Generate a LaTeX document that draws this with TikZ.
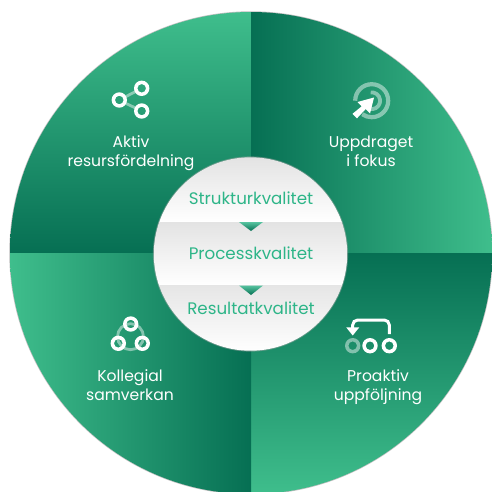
\documentclass[tikz,border=0pt]{standalone}
\usepackage{fontspec}
\setmainfont{Poppins}
\definecolor{bright}{HTML}{3FBE8C}
\definecolor{dark}{HTML}{066F53}
\definecolor{txtgreen}{HTML}{2DB588}
\tikzset{
  lbl/.style={text=white,anchor=base,font=\fontsize{15.6}{20}\selectfont,inner sep=0pt},
  inlbl/.style={text=txtgreen,anchor=base,font=\fontsize{16.7}{18}\selectfont,inner sep=0pt},
  pale/.style={draw=white,draw opacity=.45,line cap=butt},
  tri/.style={top color=txtgreen!80!white,bottom color=dark,draw=none},
}
\newcommand{\ringat}[3][1]{\fill[white,opacity=#1,even odd rule] (#2,#3) circle[radius=7.7pt] (#2,#3) circle[radius=4.3pt];}
\begin{document}
\begin{tikzpicture}[x=1pt,y=-1pt]
\useasboundingbox (0,0) rectangle (492,491);
\fill[white] (0,0) rectangle (492,491);
% quadrants
\fill[black!25] (251,253) circle[radius=241.7pt];
\begin{scope}
\clip (0,0) rectangle (492,491);
\clip (251,253) circle[radius=241pt];
\shade[top color=bright,bottom color=dark] (10,12) rectangle (251,253);
\shade[left color=dark,right color=bright] (251,12) rectangle (492,253);
\shade[top color=dark,bottom color=bright] (251,253) rectangle (492,494);
\shade[left color=bright,right color=dark] (10,253) rectangle (251,494);
\end{scope}
% inner circle
\fill[black!35,opacity=.5] (250.5,254) circle[radius=97.6pt];
\begin{scope}
\clip (250.5,254) circle[radius=96.7pt];
\shade[top color=black!11,bottom color=white] (150,157) rectangle (350,222);
\shade[top color=black!11,bottom color=white] (150,222) rectangle (350,285);
\shade[top color=black!10,bottom color=white] (150,285) rectangle (350,352);
\end{scope}
\shade[tri] (239,222) -- (263,222) -- (251,231) -- cycle;
\shade[tri] (239,285.5) -- (263,285.5) -- (251,295) -- cycle;
\node[inlbl] (q1) at (251,204) {Strukturkvalitet};
\node[inlbl] (q2) at (251,259) {Processkvalitet};
\node[inlbl] (q3) at (251,314) {Resultatkvalitet};
% labels
\node[lbl] (a1) at (131,147.3) {Aktiv};
\node[lbl] (a2) at (131,166.9) {resursfördelning};
\node[lbl] (b1) at (371,147.3) {Uppdraget};
\node[lbl] (b2) at (371,166.9) {i fokus};
\node[lbl] (c1) at (130,381) {Kollegial};
\node[lbl] (c2) at (130,400.7) {samverkan};
\node[lbl] (d1) at (378,381) {Proaktiv};
\node[lbl] (d2) at (378,400.7) {uppföljning};
% share icon
\draw[pale,line width=2.8pt] (125,97) -- (136,91.3) (125,103) -- (136,108.2);
\ringat{141.7}{88.3}
\ringat{119.3}{100}
\ringat{141.7}{111}
% target icon
\draw[pale,line width=4.2pt] (355.2,100.7) arc[start angle=180,end angle=-125,radius=16.5pt];
\draw[pale,line width=3.8pt] (370.7,92.4) arc[start angle=97,end angle=-120,radius=8.4pt];
\fill[white] (374,97.5) -- (357.5,102) -- (361.7,106.3) -- (352.5,113.8) -- (357,118.3) -- (365.7,109) -- (370,113.5) -- cycle;
% triangle icon
\begin{scope}
\clip (100,310) rectangle (160,360) (130.7,324) circle[radius=7pt] (118.3,343.3) circle[radius=7pt] (142.3,343.3) circle[radius=7pt];
\draw[pale,line width=2.8pt] (130.5,336.7) circle[radius=13pt];
\end{scope}
\ringat{130.7}{324}
\ringat{118.3}{343.3}
\ringat{142.3}{343.3}
% follow-up icon
\ringat[.45]{352.7}{345.7}
\ringat{370}{345.7}
\ringat{389.3}{345.7}
\draw[white,line width=3pt,rounded corners=5pt] (389.3,334) -- (389.3,320) -- (352.7,320) -- (352.7,329);
\fill[white] (346.2,327.3) -- (359.3,327.3) -- (352.7,335.5) -- cycle;
\end{tikzpicture}
\end{document}
